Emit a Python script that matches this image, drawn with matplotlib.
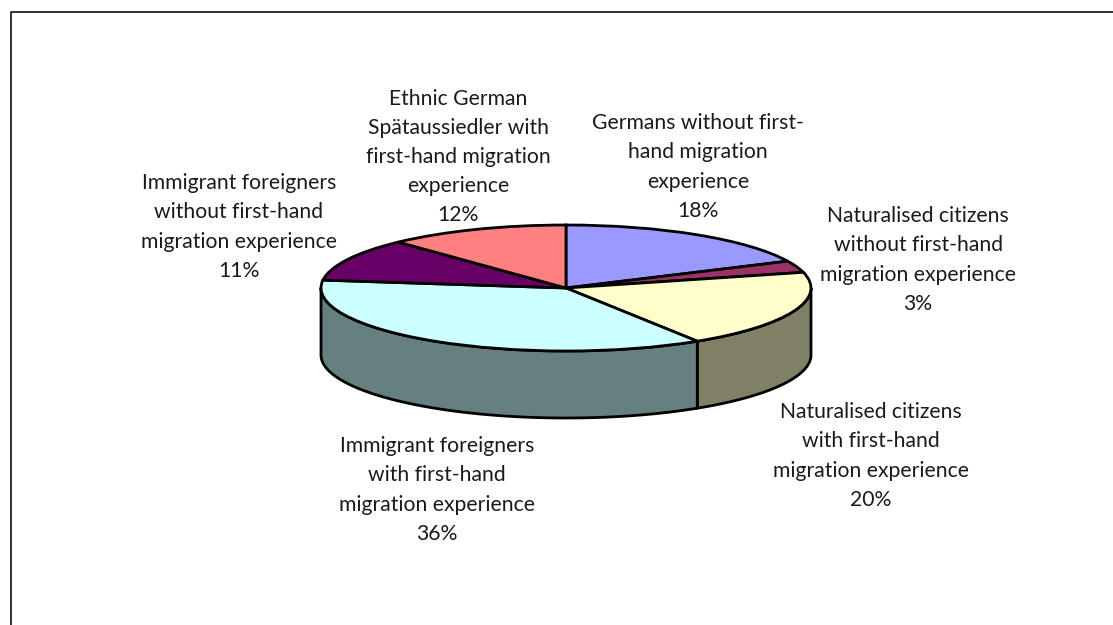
import numpy as np
import matplotlib
matplotlib.use('Agg')
import matplotlib.pyplot as plt

names = ['Germans without first-\nhand migration\nexperience',
         'Naturalised citizens\nwithout first-hand\nmigration experience',
         'Naturalised citizens\nwith first-hand\nmigration experience',
         'Immigrant foreigners\nwith first-hand\nmigration experience',
         'Immigrant foreigners\nwithout first-hand\nmigration experience',
         'Ethnic German\nSpätaussiedler with\nfirst-hand migration\nexperience']
values = [18, 3, 20, 36, 11, 12]
top_colors = ['#9999FF', '#993366', '#FFFFCC', '#CCFFFF', '#660066', '#FF8080']
wall_colors = ['#4C4C80', '#4C1933', '#808066', '#668080', '#330033', '#804040']

W, H = 1113, 625
cx, cy, rx, ry, depth = 566, 288, 245, 63, 67
plt.rcParams['font.family'] = ['Lato', 'DejaVu Sans']

fig = plt.figure(figsize=(W / 100, H / 100), dpi=100)
ax = fig.add_axes([0, 0, 1, 1])

# top face of the pie, units are one radius in x and one radius in y
ax.pie(values, colors=top_colors, startangle=90, counterclock=False,
       wedgeprops=dict(edgecolor='black', linewidth=2.0, zorder=3))
ax.set_aspect('auto')
ax.set_xlim((0 - cx) / rx, (W - cx) / rx)
ax.set_ylim((cy - H) / ry, cy / ry)
ax.axis('off')

# side wall, only the front half of the rim can be seen
d = depth / ry
edges = np.cumsum([0] + values) / sum(values) * 360
for i in range(len(values)):
    a0, a1 = max(edges[i], 90), min(edges[i + 1], 270)
    if a1 <= a0:
        continue
    t = np.radians(np.linspace(a0, a1, 200))
    x, y = np.sin(t), np.cos(t)
    ax.fill(np.r_[x, x[::-1]], np.r_[y, y[::-1] - d], facecolor=wall_colors[i],
            edgecolor='black', linewidth=2.0, joinstyle='round', zorder=2)

# labels
label_x = [698, 918, 871, 437, 239, 458]
label_y = [167, 260, 456, 490, 227, 157]
for name, v, x, y in zip(names, values, label_x, label_y):
    fig.text(x / W, 1 - y / H, f'{name}\n{v}%', ha='center', va='center',
             fontsize=15.2, linespacing=1.57, color='#1a1a1a')

# chart frame, cut off by the picture on the right and at the bottom
fig.add_artist(plt.Line2D([11 / W, 11 / W, 1], [0, 1 - 12 / H, 1 - 12 / H],
                          color='#222222', linewidth=1.3))

fig.savefig('out.png', dpi=100)
